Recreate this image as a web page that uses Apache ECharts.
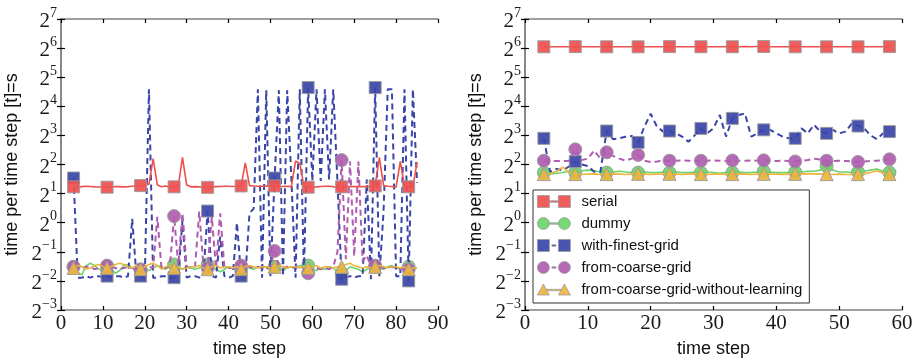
<!DOCTYPE html>
<html>
<head>
<meta charset="utf-8">
<script src="https://cdn.jsdelivr.net/npm/echarts@6/dist/echarts.min.js"></script>
<style>
  html, body { margin: 0; padding: 0; background: #fff; }
  #chart { width: 919px; height: 358px; }
</style>
</head>
<body>
<div id="chart"></div>
<script>
// ---- data: time per time step (seconds), log2 axis ----
const seriesNames = ['serial', 'dummy', 'with-finest-grid', 'from-coarse-grid', 'from-coarse-grid-without-learning'];

// left run: time steps 3..85
const leftStart = 3;
const leftSerial = [
  2.35, 2.33, 2.36, 2.38, 2.37, 2.35, 2.34, 2.35, 2.33, 2.35, 2.37, 2.36, 2.35, 2.36, 2.38, 2.40, 2.42, 2.45, 2.50, 4.60,
  2.45, 2.35, 2.40, 2.33, 2.35, 2.40, 4.75, 2.45, 2.35, 2.36, 2.35, 2.33, 2.32, 2.35, 2.36, 2.37, 2.38, 2.38, 2.37, 2.38,
  2.40, 4.15, 2.42, 2.40, 2.38, 2.38, 2.39, 2.40, 2.40, 2.38, 2.37, 2.38, 2.36, 4.35, 4.10, 2.40, 2.33, 2.32, 2.35, 2.37,
  2.38, 2.38, 2.36, 2.28, 2.35, 2.36, 2.37, 2.36, 2.37, 2.36, 2.36, 2.36, 2.40, 4.75, 2.42, 2.38, 2.37, 2.33, 4.30, 2.40,
  2.35, 2.30, 4.25
];
const leftDummy = [
  0.35, 0.30, 0.29, 0.36, 0.38, 0.36, 0.33, 0.32, 0.35, 0.33, 0.30, 0.32, 0.36, 0.37, 0.34, 0.31, 0.32, 0.33, 0.32, 0.34,
  0.36, 0.35, 0.33, 0.36, 0.37, 0.34, 0.33, 0.35, 0.34, 0.33, 0.34, 0.36, 0.37, 0.35, 0.33, 0.31, 0.33, 0.35, 0.34, 0.33,
  0.34, 0.36, 0.34, 0.33, 0.35, 0.34, 0.35, 0.34, 0.35, 0.33, 0.32, 0.34, 0.35, 0.34, 0.36, 0.35, 0.36, 0.33, 0.32, 0.34,
  0.33, 0.35, 0.34, 0.31, 0.30, 0.32, 0.35, 0.34, 0.33, 0.31, 0.33, 0.35, 0.35, 0.34, 0.33, 0.35, 0.36, 0.34, 0.33, 0.34,
  0.35, 0.33, 0.34
];
const leftFinest = [
  2.90, 0.27, 0.27, 0.28, 0.27, 0.28, 0.28, 0.27, 0.28, 0.27, 0.28, 0.28, 0.27, 0.28, 1.10, 0.28, 0.28, 0.27, 24.0, 0.27,
  0.27, 0.28, 0.28, 0.27, 0.27, 0.28, 1.05, 0.27, 0.28, 0.28, 0.27, 0.29, 1.32, 0.28, 0.27, 0.72, 0.28, 0.27, 0.28, 1.00,
  0.28, 0.28, 1.25, 1.40, 24.0, 0.27, 23.5, 0.28, 2.90, 23.5, 0.28, 23.5, 2.80, 0.27, 24.0, 0.28, 25.0, 2.70, 24.0, 2.70,
  24.0, 2.80, 24.0, 2.60, 0.26, 0.27, 0.28, 0.27, 0.28, 0.28, 2.80, 0.26, 25.0, 0.28, 1.30, 24.0, 24.0, 0.28, 0.28, 24.0,
  0.25, 24.0, 2.60
];
const leftCoarse = [
  0.35, 0.36, 0.34, 0.35, 0.35, 0.33, 0.34, 0.35, 0.36, 0.35, 0.34, 0.33, 0.34, 0.35, 0.34, 0.33, 0.33, 0.34, 0.35, 0.34,
  1.15, 0.33, 0.34, 0.36, 1.17, 0.36, 1.25, 0.35, 0.34, 0.35, 1.30, 0.36, 0.34, 1.15, 0.34, 1.25, 0.35, 0.34, 0.34, 0.35,
  0.36, 0.37, 0.35, 0.34, 0.35, 0.34, 0.33, 0.36, 0.51, 0.36, 0.34, 0.35, 0.34, 0.35, 0.36, 0.34, 0.30, 0.33, 0.34, 0.33,
  0.34, 0.33, 0.35, 0.50, 4.44, 0.42, 4.30, 0.45, 4.30, 0.40, 0.46, 0.35, 0.36, 0.35, 0.34, 0.34, 0.35, 0.34, 0.33, 0.34,
  0.33, 0.34, 0.34
];
const leftCoarseNoLearn = [
  0.34, 0.36, 0.35, 0.33, 0.34, 0.36, 0.37, 0.35, 0.34, 0.35, 0.37, 0.38, 0.37, 0.35, 0.34, 0.36, 0.33, 0.35, 0.37, 0.38,
  0.36, 0.33, 0.35, 0.36, 0.34, 0.35, 0.33, 0.34, 0.35, 0.35, 0.36, 0.34, 0.33, 0.35, 0.36, 0.34, 0.35, 0.35, 0.34, 0.35,
  0.33, 0.35, 0.36, 0.35, 0.34, 0.35, 0.35, 0.34, 0.35, 0.36, 0.35, 0.34, 0.35, 0.35, 0.34, 0.35, 0.34, 0.35, 0.36, 0.34,
  0.35, 0.35, 0.34, 0.35, 0.35, 0.37, 0.38, 0.36, 0.35, 0.34, 0.35, 0.34, 0.35, 0.36, 0.35, 0.34, 0.35, 0.35, 0.34, 0.35,
  0.33, 0.34, 0.34
];

// right run: time steps 3..58
const rightStart = 3;
const rightSerial = [
  66.0, 66.1, 66.0, 66.2, 66.0, 66.3, 66.1, 66.0, 66.2, 66.1, 66.0, 66.1, 66.0, 66.2, 66.1, 66.0, 66.1, 66.2, 66.0, 66.1,
  66.3, 66.0, 66.1, 66.0, 66.2, 66.1, 66.0, 66.1, 66.2, 66.0, 66.1, 66.0, 66.3, 66.1, 66.4, 66.5, 66.3, 66.2, 66.0, 66.1,
  66.0, 66.1, 66.2, 66.0, 66.1, 66.0, 66.1, 66.2, 66.0, 66.1, 66.0, 66.2, 66.1, 66.0, 66.2, 66.3
];
const rightDummy = [
  3.30, 3.20, 3.25, 3.30, 3.40, 3.30, 3.45, 3.50, 3.45, 3.35, 3.30, 3.35, 3.40, 3.35, 3.30, 3.30, 3.35, 3.30, 3.30, 3.35,
  3.30, 3.35, 3.30, 3.30, 3.35, 3.30, 3.35, 3.30, 3.25, 3.30, 3.30, 3.35, 3.30, 3.30, 3.35, 3.40, 3.35, 3.30, 3.30, 3.30,
  3.35, 3.35, 3.40, 3.40, 3.50, 3.85, 3.50, 3.35, 3.35, 3.30, 3.35, 3.40, 3.50, 3.60, 3.40, 3.30
];
const rightFinest = [
  7.46, 3.36, 3.60, 3.48, 3.81, 4.29, 4.00, 3.86, 3.36, 3.36, 8.88, 7.31, 7.46, 7.73, 7.89, 6.77, 9.85, 13.4, 9.85, 8.75,
  8.88, 8.40, 7.78, 6.87, 8.00, 9.45, 8.40, 9.50, 13.0, 7.78, 12.0, 13.0, 13.5, 7.78, 8.40, 9.13, 9.13, 8.40, 7.78, 7.46,
  7.46, 9.45, 8.40, 10.3, 8.75, 8.40, 9.13, 8.40, 8.75, 10.6, 10.0, 9.45, 8.00, 7.31, 8.40, 8.75
];
const rightCoarse = [
  4.38, 4.35, 4.35, 4.35, 4.38, 5.74, 4.44, 4.60, 5.58, 4.60, 5.35, 4.92, 4.60, 4.38, 4.60, 5.03, 4.38, 4.25, 4.30, 4.38,
  4.38, 4.38, 4.40, 4.38, 4.35, 4.38, 4.38, 4.40, 4.38, 4.35, 4.40, 4.38, 4.38, 4.40, 4.38, 4.42, 4.38, 4.35, 4.38, 4.35,
  4.30, 4.38, 4.45, 4.60, 4.50, 4.38, 4.35, 4.38, 4.35, 4.30, 4.25, 4.30, 4.35, 4.38, 4.45, 4.53
];
const rightCoarseNoLearn = [
  3.18, 3.22, 3.40, 3.75, 3.30, 3.18, 3.15, 3.18, 3.20, 3.15, 3.18, 3.20, 3.18, 3.15, 3.18, 3.20, 3.18, 3.15, 3.18, 3.18,
  3.20, 3.18, 3.15, 3.18, 3.20, 3.18, 3.15, 3.18, 3.18, 3.15, 3.18, 3.20, 3.18, 3.15, 3.18, 3.20, 3.18, 3.18, 3.15, 3.18,
  3.20, 3.18, 3.22, 3.20, 3.18, 3.18, 3.15, 3.18, 3.15, 3.15, 3.18, 3.20, 3.30, 3.45, 3.25, 3.18
];

// axis ticks
const yTicks = [0.125, 0.25, 0.5, 1, 2, 4, 8, 16, 32, 64, 128];
const leftXMax = 90;
const rightXMax = 60;
const leftMarkerEvery = 8;
const rightMarkerEvery = 5;

// ---- styling ----
const colors = {
  serial: '#EF4F4F',
  dummy: '#6DD46A',
  finest: '#3A45A8',
  coarse: '#B05DB0',
  noLearn: '#EBB53F'
};
const edge = '#9a9a9a';
const frameColor = '#808080';
const serif = '"Liberation Serif", "DejaVu Serif", serif';
const sans = '"Liberation Sans", Arial, sans-serif';

function pairs(start, values) {
  return values.map((v, i) => [start + i, v]);
}

function supLabel(v) {
  const e = Math.round(Math.log2(v));
  return '{b|2}{s|' + (e < 0 ? '\u2212' + (-e) : e) + '}';
}

function xAxes(gridIndex, max) {
  return [
    {
      type: 'value', gridIndex, min: 0, max, interval: 10, position: 'bottom',
      name: 'time step', nameLocation: 'middle', nameGap: 30,
      nameTextStyle: { fontFamily: sans, fontSize: 18, color: '#111' },
      axisLine: { show: true, lineStyle: { color: frameColor, width: 1.5 } },
      axisTick: { inside: true, length: 4, lineStyle: { color: '#000', width: 1.2 } },
      axisLabel: { fontFamily: serif, fontSize: 21, color: '#1a1a1a', margin: 3 },
      splitLine: { show: false }
    },
    {
      type: 'value', gridIndex, min: 0, max, interval: 10, position: 'top',
      axisLine: { show: true, lineStyle: { color: frameColor, width: 1.5 } },
      axisTick: { inside: true, length: 4, lineStyle: { color: '#000', width: 1.2 } },
      axisLabel: { show: false },
      splitLine: { show: false }
    }
  ];
}

function yAxes(gridIndex) {
  const common = {
    type: 'log', logBase: 2, gridIndex, min: 0.125, max: 128,
    splitLine: { show: false },
    axisLine: { show: true, lineStyle: { color: frameColor, width: 1.5 } },
    axisTick: { inside: true, length: 4, customValues: yTicks, lineStyle: { color: '#000', width: 1.2 } }
  };
  return [
    Object.assign({}, common, {
      position: 'left',
      name: 'time per time step [t]=s', nameLocation: 'middle', nameGap: 40, nameRotate: 90,
      nameTextStyle: { fontFamily: sans, fontSize: 18, color: '#111' },
      axisLabel: {
        customValues: yTicks, margin: 4, formatter: supLabel,
        rich: {
          b: { fontFamily: serif, fontSize: 21, color: '#1a1a1a', lineHeight: 26, verticalAlign: 'bottom' },
          s: { fontFamily: serif, fontSize: 14, color: '#1a1a1a', lineHeight: 14, verticalAlign: 'top' }
        }
      }
    }),
    Object.assign({}, common, {
      position: 'right',
      axisLabel: { show: false }
    })
  ];
}

function lineSeries(name, data, xi, yi, color, symbol, size, every, dashed, z) {
  return {
    name, type: 'line', xAxisIndex: xi, yAxisIndex: yi, data,
    z,
    showSymbol: true, showAllSymbol: true,
    symbol: (val, params) => (params.dataIndex % every === 0 ? symbol : 'none'),
    symbolSize: size,
    lineStyle: { color, width: dashed ? 2 : 1.6, type: dashed ? [6, 4] : 'solid' },
    itemStyle: { color, borderColor: edge, borderWidth: 1, opacity: 0.92 },
    emphasis: { disabled: true },
    animation: false
  };
}

function panelSeries(xi, yi, start, arrs, every) {
  return [
    lineSeries('serial', pairs(start, arrs[0]), xi, yi, colors.serial, 'rect', 12, every, false, 7),
    lineSeries('dummy', pairs(start, arrs[1]), xi, yi, colors.dummy, 'circle', 13, every, false, 2),
    lineSeries('with-finest-grid', pairs(start, arrs[2]), xi, yi, colors.finest, 'rect', 12, every, true, 3),
    lineSeries('from-coarse-grid', pairs(start, arrs[3]), xi, yi, colors.coarse, 'circle', 13, every, true, 4),
    lineSeries('from-coarse-grid-without-learning', pairs(start, arrs[4]), xi, yi, colors.noLearn, 'triangle', 13, every, false, 5)
  ];
}

// legend glyphs: two markers joined by a solid or dashed segment
const legendIcons = {
  'serial': 'path://M0,0H12V12H0Z M21,0H33V12H21Z M12,5.3H21V6.7H12Z',
  'dummy': 'path://M0,6A6,6,0,1,1,12,6A6,6,0,1,1,0,6Z M21,6A6,6,0,1,1,33,6A6,6,0,1,1,21,6Z M12,5.3H21V6.7H12Z',
  'with-finest-grid': 'path://M0,0H12V12H0Z M21,0H33V12H21Z M14.5,5.2H18.5V6.8H14.5Z',
  'from-coarse-grid': 'path://M0,6A6,6,0,1,1,12,6A6,6,0,1,1,0,6Z M21,6A6,6,0,1,1,33,6A6,6,0,1,1,21,6Z M14.5,5.2H18.5V6.8H14.5Z',
  'from-coarse-grid-without-learning': 'path://M0,12L6,1L12,12Z M21,12L27,1L33,12Z M9,6.3H24V7.7H9Z'
};
const legendColors = [colors.serial, colors.dummy, colors.finest, colors.coarse, colors.noLearn];

const chart = echarts.init(document.getElementById('chart'), null, { renderer: 'canvas' });
chart.setOption({
  backgroundColor: '#fff',
  animation: false,
  grid: [
    { left: 61, top: 19, width: 377, height: 291, outerBoundsMode: 'none' },
    { left: 525, top: 19, width: 377, height: 291, outerBoundsMode: 'none' }
  ],
  xAxis: [].concat(xAxes(0, leftXMax), xAxes(1, rightXMax)),
  yAxis: [].concat(yAxes(0), yAxes(1)),
  legend: {
    orient: 'vertical',
    left: 533, top: 190,
    padding: [4, 7, 6, 4],
    itemGap: 7,
    itemWidth: 33, itemHeight: 12,
    backgroundColor: '#fff',
    borderColor: '#333', borderWidth: 1,
    textStyle: { fontFamily: sans, fontSize: 15, color: '#111', padding: [0, 0, 0, 6] },
    selectedMode: false,
    data: seriesNames.map((n, i) => ({
      name: n,
      icon: legendIcons[n],
      itemStyle: { color: legendColors[i], borderColor: edge, borderWidth: 0.8 }
    }))
  },
  series: [].concat(
    panelSeries(0, 0, leftStart, [leftSerial, leftDummy, leftFinest, leftCoarse, leftCoarseNoLearn], leftMarkerEvery),
    panelSeries(2, 2, rightStart, [rightSerial, rightDummy, rightFinest, rightCoarse, rightCoarseNoLearn], rightMarkerEvery)
  )
});
</script>
</body>
</html>
